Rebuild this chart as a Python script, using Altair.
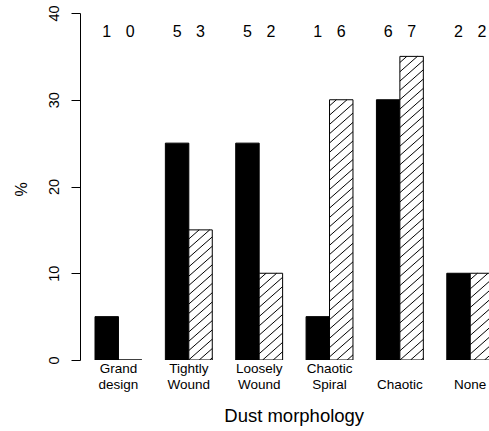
import altair as alt
import pandas as pd
import numpy as np

# ---- data ----
categories = ["Grand\ndesign", "Tightly\nWound", "Loosely\nWound", "Chaotic\nSpiral", "Chaotic", "None"]
pct_solid = [5, 25, 25, 5, 30, 10]
pct_hatched = [0, 15, 10, 30, 35, 10]
n_solid = [1, 5, 5, 1, 6, 2]
n_hatched = [0, 3, 2, 6, 7, 2]
y_ticks = [0, 10, 20, 30, 40]

FONT = "Liberation Sans"
W, H = 409, 347
XDOM = [0.36, 17.80]
YDOM = [0, 40]
ux = W / (XDOM[1] - XDOM[0])
uy = H / (YDOM[1] - YDOM[0])

rows = []
for i, cat in enumerate(categories):
    for s, (pcts, ns, name) in enumerate([(pct_solid, n_solid, "solid"),
                                          (pct_hatched, n_hatched, "hatched")]):
        x0 = 3 * i + 1 + s
        rows.append(dict(cat=cat, series=name, pct=pcts[i], n=str(ns[i]),
                         x0=x0, x1=x0 + 1, xc=x0 + 0.5, gc=3 * i + 2))
bars = pd.DataFrame(rows)

lab_rows = []
for i, cat in enumerate(categories):
    parts = cat.split("\n")
    if len(parts) == 1:
        parts = [""] + parts
    lab_rows.append(dict(gc=3 * i + 2, top=parts[0], bottom=parts[1]))
lab_df = pd.DataFrame(lab_rows)

# ---- hatch segments derived from the hatched bars ----
slope, spacing, phase = 0.88, 9.3, 6.7
segs = []
for _, r in bars[bars.series == "hatched"].iterrows():
    X0 = (r.x0 - XDOM[0]) * ux
    X1 = (r.x1 - XDOM[0]) * ux
    Ht = r.pct * uy
    if Ht <= 0:
        continue
    cmin = -slope * X1
    cmax = Ht - slope * X0
    k0 = int(np.floor((cmin - phase) / spacing))
    k1 = int(np.ceil((cmax - phase) / spacing))
    for k in range(k0, k1 + 1):
        c = phase + k * spacing
        lo = max(X0, -c / slope)
        hi = min(X1, (Ht - c) / slope)
        if hi - lo > 0.3:
            segs.append(dict(x=lo / ux + XDOM[0], y=(slope * lo + c) / uy,
                             x2=hi / ux + XDOM[0], y2=(slope * hi + c) / uy))
hatch = pd.DataFrame(segs)

xs = alt.Scale(domain=XDOM, nice=False, zero=False)
ys = alt.Scale(domain=YDOM, nice=False, zero=False)

yaxis = alt.Axis(values=y_ticks, title="%", grid=False, domainColor="black", tickColor="black",
                 domainWidth=1, tickWidth=1, tickSize=9, labelAngle=270, labelAlign="center",
                 labelBaseline="alphabetic", labelPadding=12.7, labelFontSize=14.5, labelFont=FONT,
                 labelColor="black", labelFlush=False, labelOverlap=False,
                 titleAngle=270, titleX=-53.3, titleY=176, titleAlign="center",
                 titleBaseline="alphabetic", titleFontSize=16, titleFont=FONT,
                 titleFontWeight="normal", titleColor="black")
xaxis = alt.Axis(title="Dust morphology", domain=False, ticks=False, labels=False, grid=False,
                 titleX=213.7, titleY=61.7, titleAlign="center", titleBaseline="alphabetic",
                 titleFontSize=18.5, titleFont=FONT, titleFontWeight="normal", titleColor="black")

bar = alt.Chart(bars).mark_bar(stroke="black", strokeWidth=1, clip=True).encode(
    x=alt.X("x0:Q", scale=xs, axis=xaxis),
    x2="x1:Q",
    y=alt.Y("pct:Q", scale=ys, axis=yaxis),
    y2=alt.datum(0),
    fill=alt.Fill("series:N", scale=alt.Scale(domain=["solid", "hatched"], range=["black", "white"]),
                  legend=None),
)

lines = alt.Chart(hatch).mark_rule(color="black", strokeWidth=1, clip=True).encode(
    x=alt.X("x:Q", scale=xs, axis=xaxis),
    x2="x2:Q",
    y=alt.Y("y:Q", scale=ys, axis=yaxis),
    y2="y2:Q",
)

nums = alt.Chart(bars).mark_text(font=FONT, fontSize=16, baseline="alphabetic", align="center",
                                 dy=24, color="black").encode(
    x=alt.X("xc:Q", scale=xs, axis=xaxis),
    y=alt.Y(datum=40, scale=ys, axis=yaxis),
    text="n:N",
)

lab_top = alt.Chart(lab_df).mark_text(font=FONT, fontSize=13.5, baseline="alphabetic", align="center",
                                      dy=13.3, color="black").encode(
    x=alt.X("gc:Q", scale=xs, axis=xaxis),
    y=alt.Y(datum=0, scale=ys, axis=yaxis),
    text="top:N",
)
lab_bot = alt.Chart(lab_df).mark_text(font=FONT, fontSize=13.5, baseline="alphabetic", align="center",
                                      dy=29.3, color="black").encode(
    x=alt.X("gc:Q", scale=xs, axis=xaxis),
    y=alt.Y(datum=0, scale=ys, axis=yaxis),
    text="bottom:N",
)

chart = alt.layer(bar, lines, nums, lab_top, lab_bot).properties(
    width=W, height=H,
    autosize=alt.AutoSizeParams(type="none"),
    padding={"left": 80, "top": 13, "right": 0, "bottom": 71},
    background="white",
).configure_view(stroke=None)

chart.save("out.html", embed_options={"renderer": "svg", "actions": False})
